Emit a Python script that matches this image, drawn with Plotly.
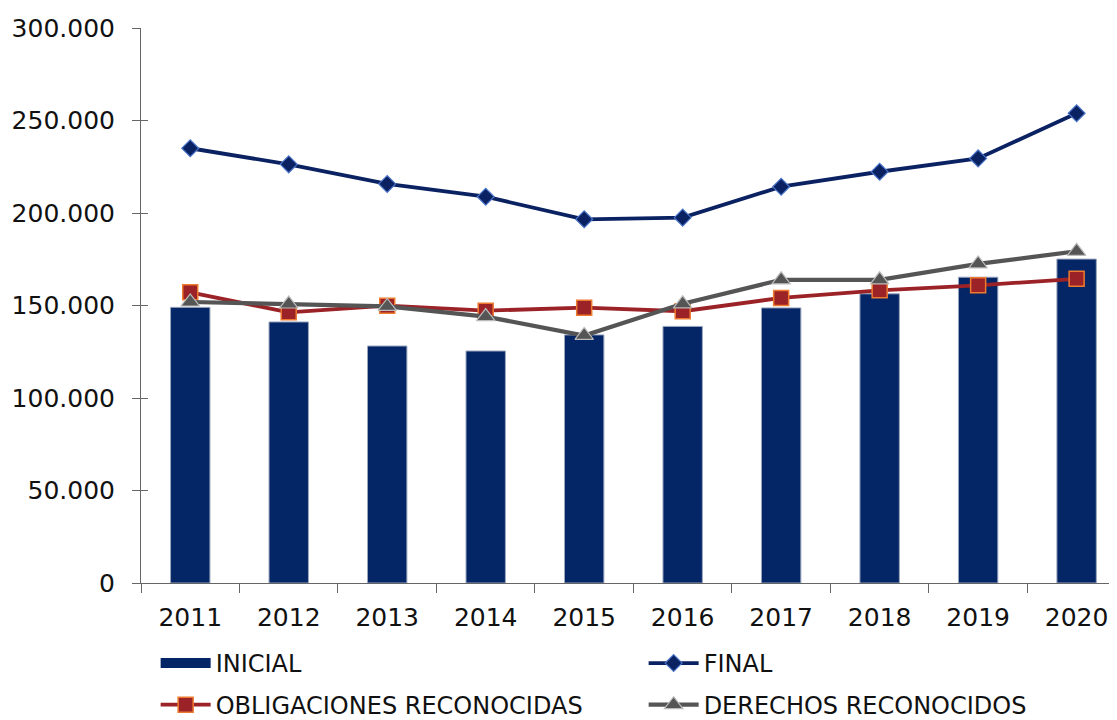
import plotly.graph_objects as go

years = ["2011", "2012", "2013", "2014", "2015", "2016", "2017", "2018", "2019", "2020"]
inicial = [149000, 141100, 128100, 125400, 134100, 138700, 148700, 156300, 165300, 175100]
final = [235000, 226300, 215700, 208800, 196600, 197500, 214200, 222300, 229500, 253900]
obligaciones = [157100, 146300, 149900, 147200, 148800, 146900, 154100, 158200, 160900, 164400]
derechos = [151900, 150800, 149500, 144000, 133800, 150900, 163900, 163900, 172500, 179300]

FONT = "DejaVu Sans"
NAVY = "#042566"

fig = go.Figure()
fig.add_trace(go.Bar(
    x=years, y=inicial, name="INICIAL", width=0.4, showlegend=False,
    marker=dict(color=NAVY, line=dict(color="#9aa6bd", width=1)),
))
# legend-only swatch for the bars (wide block like the reference)
fig.add_trace(go.Scatter(
    x=[None], y=[None], name="INICIAL", mode="lines", legend="legend",
    line=dict(color=NAVY, width=16),
))
fig.add_trace(go.Scatter(
    x=years, y=final, name="FINAL", mode="lines+markers", legend="legend",
    line=dict(color="#0a2162", width=3.8),
    marker=dict(symbol="diamond", size=13, color="#0a2162", line=dict(color="#4a74c8", width=1.2)),
))
fig.add_trace(go.Scatter(
    x=years, y=obligaciones, name="OBLIGACIONES RECONOCIDAS", mode="lines+markers", legend="legend2",
    line=dict(color="#9b2226", width=3.8),
    marker=dict(symbol="square", size=15, color="#9b2226", line=dict(color="#ee7a30", width=1.5)),
))
fig.add_trace(go.Scatter(
    x=years, y=derechos, name="DERECHOS RECONOCIDOS", mode="lines+markers", legend="legend2",
    line=dict(color="#555555", width=4.2),
    marker=dict(symbol="triangle-up", size=16, color="#555555", line=dict(color="#bbbbbb", width=1.2)),
))
# overlay axis to draw the inner half of the crossing y ticks
fig.add_trace(go.Scatter(x=[years[0]], y=[0], yaxis="y2", mode="markers",
                         marker=dict(opacity=0), showlegend=False, hoverinfo="skip"))

leg_common = dict(
    orientation="h", xanchor="left", yanchor="middle",
    entrywidth=423, entrywidthmode="pixels",
    font=dict(family=FONT, size=24, color="#111111"),
    itemwidth=50, traceorder="normal", bgcolor="rgba(0,0,0,0)",
)

fig.update_layout(
    width=1117, height=720,
    margin=dict(l=133, r=8, t=20, b=145, autoexpand=False),
    paper_bgcolor="white", plot_bgcolor="white",
    separators=",.",
    font=dict(family=FONT, size=24, color="#111111"),
    showlegend=True,
    legend=dict(x=0.015, y=-0.1450, **leg_common),
    legend2=dict(x=0.015, y=-0.2200, **leg_common),
    xaxis=dict(
        type="category", range=[-0.5, 9.41],
        showline=True, linecolor="#666666", linewidth=1,
        ticks="outside", ticklen=9, tickcolor="#666666", tickson="boundaries",
        showgrid=False, zeroline=False,
        tickfont=dict(family=FONT, size=25),
        ticklabelstandoff=12,
    ),
    yaxis=dict(
        range=[0, 300000], dtick=50000, tickformat=",d",
        showline=True, linecolor="#666666", linewidth=1,
        ticks="outside", ticklen=8, tickcolor="#666666",
        showgrid=False, zeroline=False,
        tickfont=dict(family=FONT, size=25),
        ticklabelstandoff=12,
    ),
    yaxis2=dict(
        overlaying="y", side="left", range=[0, 300000], dtick=50000,
        ticks="inside", ticklen=7, tickcolor="#666666",
        showticklabels=False, showgrid=False, zeroline=False, showline=False,
    ),
)

fig.write_html("out.html")
